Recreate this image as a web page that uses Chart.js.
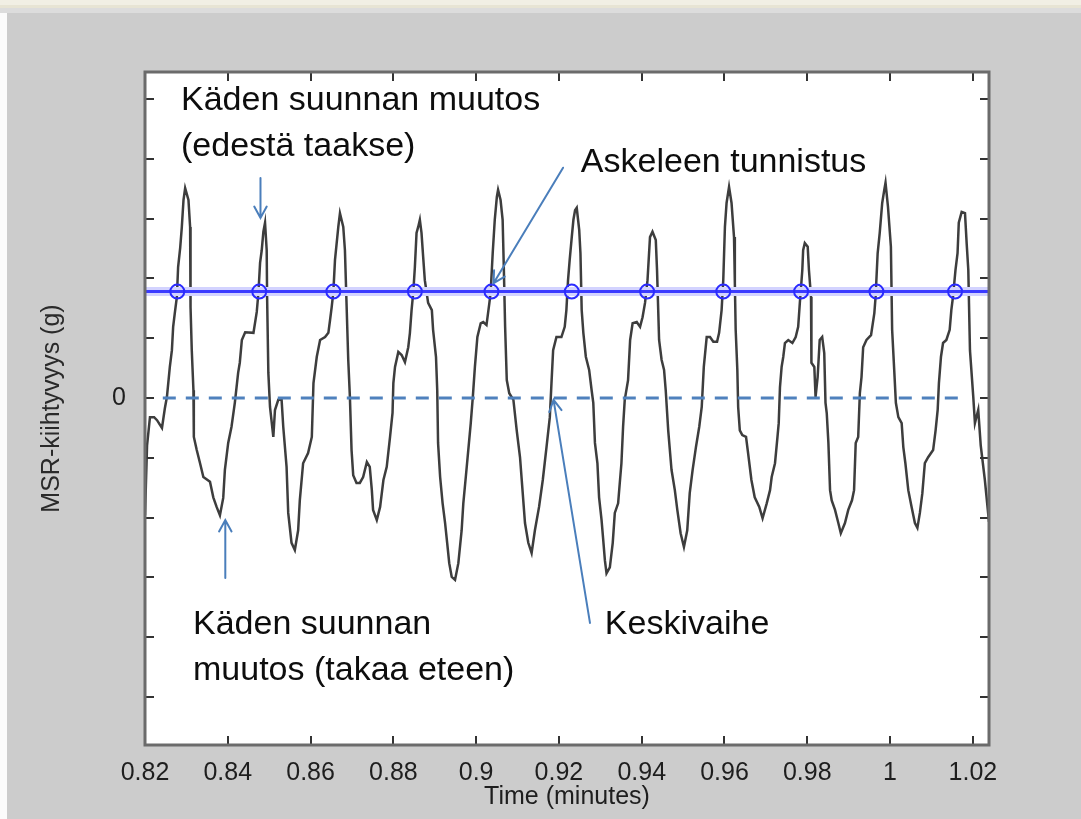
<!DOCTYPE html>
<html>
<head>
<meta charset="utf-8">
<script src="https://cdn.jsdelivr.net/npm/chart.js@4.4.0/dist/chart.umd.min.js"></script>
<style>
  html, body { margin: 0; padding: 0; background: #cccccc; }
  #wrap { width: 1081px; height: 819px; }
</style>
</head>
<body>
<div id="wrap"><canvas id="kuvaaja" width="1081" height="819"></canvas></div>
<script>
// aika (minuutteina) ja MSR-kiihtyvyys, luettu kuvasta
var aika = [
  0.8200, 0.8205, 0.8212, 0.8222, 0.8229, 0.8241, 0.8248, 0.8253, 0.8260, 0.8265,
  0.8268, 0.8272, 0.8277, 0.8280, 0.8285, 0.8289, 0.8293, 0.8297, 0.8305, 0.8309,
  0.8310, 0.8313, 0.8317, 0.8318, 0.8325, 0.8333, 0.8341, 0.8357, 0.8365, 0.8373,
  0.8381, 0.8389, 0.8393, 0.8401, 0.8409, 0.8417, 0.8425, 0.8429, 0.8434, 0.8442,
  0.8462, 0.8470, 0.8474, 0.8478, 0.8482, 0.8486, 0.8490, 0.8494, 0.8495, 0.8498,
  0.8502, 0.8510, 0.8514, 0.8522, 0.8530, 0.8534, 0.8542, 0.8546, 0.8554, 0.8562,
  0.8570, 0.8574, 0.8582, 0.8594, 0.8603, 0.8607, 0.8615, 0.8623, 0.8635, 0.8643,
  0.8647, 0.8651, 0.8655, 0.8659, 0.8667, 0.8671, 0.8679, 0.8683, 0.8691, 0.8695,
  0.8699, 0.8703,
  0.8711, 0.8719, 0.8727, 0.8736, 0.8743, 0.8748, 0.8751, 0.8760, 0.8768, 0.8776,
  0.8784, 0.8792, 0.8798, 0.8800, 0.8804, 0.8812, 0.8820, 0.8828, 0.8836, 0.8840,
  0.8844, 0.8848, 0.8852, 0.8856, 0.8860, 0.8864, 0.8868, 0.8872, 0.8876, 0.8884,
  0.8893, 0.8896, 0.8903, 0.8906, 0.8908, 0.8913, 0.8919, 0.8925, 0.8930, 0.8935,
  0.8941, 0.8949, 0.8957, 0.8965, 0.8969, 0.8975, 0.8981, 0.8987, 0.8992, 0.8997,
  0.9003, 0.9011, 0.9017, 0.9025, 0.9032, 0.9035, 0.9040, 0.9045, 0.9050, 0.9053,
  0.9059, 0.9064, 0.9067, 0.9070, 0.9074, 0.9080, 0.9090, 0.9098, 0.9106, 0.9112,
  0.9118, 0.9126, 0.9134, 0.9142, 0.9152, 0.9161, 0.9170, 0.9178, 0.9182, 0.9186,
  0.9194, 0.9206,
  0.9214, 0.9218, 0.9222, 0.9226, 0.9231, 0.9235, 0.9239, 0.9243, 0.9249, 0.9252,
  0.9255, 0.9259, 0.9265, 0.9273, 0.9279, 0.9283, 0.9287, 0.9293, 0.9297, 0.9303,
  0.9307, 0.9311, 0.9315, 0.9323, 0.9330, 0.9335, 0.9343, 0.9347, 0.9351, 0.9355,
  0.9359, 0.9367, 0.9372, 0.9378, 0.9388, 0.9396, 0.9402, 0.9408, 0.9414, 0.9420,
  0.9426, 0.9434, 0.9437, 0.9442, 0.9448, 0.9454, 0.9458, 0.9464, 0.9472, 0.9480,
  0.9486, 0.9494, 0.9502, 0.9510, 0.9516, 0.9523, 0.9531, 0.9539, 0.9545, 0.9550,
  0.9557, 0.9565, 0.9573, 0.9582, 0.9587, 0.9593, 0.9597, 0.9601, 0.9605, 0.9611,
  0.9617, 0.9623, 0.9625, 0.9627, 0.9631, 0.9633, 0.9637, 0.9643, 0.9652, 0.9657,
  0.9665, 0.9673, 0.9684, 0.9692, 0.9702,
  0.9710, 0.9714, 0.9722, 0.9728, 0.9731, 0.9734, 0.9738, 0.9742, 0.9746, 0.9754,
  0.9764, 0.9772, 0.9778, 0.9782, 0.9785, 0.9788, 0.9790, 0.9794, 0.9801, 0.9804,
  0.9809, 0.9810, 0.9817, 0.9820, 0.9825, 0.9830, 0.9836, 0.9841, 0.9844, 0.9847,
  0.9851, 0.9855, 0.9859, 0.9867, 0.9875, 0.9881, 0.9891, 0.9899, 0.9908, 0.9913,
  0.9917, 0.9923, 0.9927, 0.9931, 0.9935, 0.9943, 0.9954, 0.9962, 0.9965, 0.9970,
  0.9975, 0.9981, 0.9986, 0.9989, 0.9995, 1.0002, 1.0005, 1.0010, 1.0014, 1.0020,
  1.0028, 1.0032, 1.0037, 1.0044, 1.0052, 1.0060, 1.0066, 1.0072, 1.0078, 1.0084,
  1.0092, 1.0104, 1.0110, 1.0115, 1.0118, 1.0123, 1.0128, 1.0136, 1.0144, 1.0148,
  1.0152, 1.0158, 1.0163, 1.0166, 1.0173, 1.0181, 1.0185, 1.0189, 1.0193, 1.0201,
  1.0205, 1.0213, 1.0219, 1.0229, 1.0239
];

var kiihtyvyys = [
  -1.96, -0.79, -0.32, -0.32, -0.37, -0.50, -0.17, 0.02, 0.52, 0.80,
  1.19, 1.42, 1.69, 2.19, 2.51, 2.86, 3.31, 3.51, 3.31, 2.86,
  1.52, 0.80, 0.13, -0.65, -0.87, -1.09, -1.32, -1.40, -1.66, -1.82,
  -1.96, -1.67, -1.20, -0.75, -0.48, -0.08, 0.42, 0.59, 0.97, 1.10,
  1.09, 1.44, 1.76, 2.26, 2.47, 2.78, 2.93, 2.47, 1.69, 0.42,
  -0.15, -0.65, -0.20, -0.03, -0.03, -0.48, -1.15, -1.92, -2.42, -2.54,
  -2.21, -1.71, -1.09, -0.92, -0.65, 0.25, 0.69, 0.97, 1.02, 1.09,
  1.30, 1.52, 1.77, 2.31, 2.86, 3.09, 2.86, 2.47, 0.64, 0.02,
  -0.87, -1.29,
  -1.42, -1.42, -1.32, -1.07, -1.15, -1.54, -1.87, -2.04, -1.82, -1.37,
  -1.15, -0.65, -0.25, 0.25, 0.52, 0.77, 0.72, 0.60, 0.85, 1.09,
  1.47, 1.76, 2.19, 2.76, 2.86, 2.98, 2.76, 2.36, 1.97, 1.59,
  1.47, 1.14, 0.69, 0.13, -0.75, -1.32, -1.76, -2.09, -2.42, -2.76,
  -2.99, -3.04, -2.76, -2.21, -1.76, -1.32, -0.87, -0.42, 0.02, 0.52,
  1.02, 1.25, 1.27, 1.22, 1.59, 1.76, 2.42, 2.98, 3.36, 3.48,
  3.31, 2.98, 2.14, 1.19, 0.30, 0.08, -0.03, -0.54, -0.99, -1.54,
  -2.09, -2.42, -2.59, -2.21, -1.82, -1.37, -0.82, -0.32, 0.25, 0.80,
  1.02, 1.02,
  1.19, 1.47, 1.97, 2.31, 2.69, 2.98, 3.14, 3.18, 2.81, 2.42,
  1.47, 1.09, 0.69, 0.47, 0.13, -0.08, -0.75, -1.09, -1.66, -2.04,
  -2.37, -2.71, -2.93, -2.83, -2.42, -1.92, -1.76, -1.42, -1.09, -0.48,
  -0.03, 0.30, 0.97, 1.25, 1.27, 1.19, 1.35, 1.59, 1.97, 2.69,
  2.78, 2.64, 2.14, 0.97, 0.64, 0.47, 0.13, -0.54, -1.20, -1.54,
  -1.87, -2.26, -2.49, -2.21, -1.59, -1.20, -0.82, -0.48, -0.15, 0.52,
  1.02, 1.02, 0.94, 0.94, 1.09, 1.47, 1.97, 2.86, 3.26, 3.53,
  3.26, 2.69, 1.92, 1.14, 0.47, -0.15, -0.54, -0.62, -0.65, -0.92,
  -1.37, -1.66, -1.82, -2.01, -1.76,
  -1.54, -1.32, -1.09, -0.65, -0.42, 0.18, 0.52, 0.69, 0.92, 0.97,
  0.92, 1.02, 1.19, 1.59, 1.86, 2.14, 2.47, 2.59, 2.53, 2.14,
  1.69, 0.59, 0.52, 0.02, 0.35, 0.97, 1.02, 0.75, -0.08, -0.25,
  -0.75, -1.54, -1.71, -1.87, -2.09, -2.26, -2.09, -1.87, -1.71, -1.54,
  -0.75, -0.65, 0.08, 0.35, 0.85, 0.97, 1.05, 1.42, 1.69, 2.42,
  2.76, 3.26, 3.48, 3.60, 3.19, 2.53, 1.14, 0.47, -0.08, -0.32,
  -0.42, -0.82, -1.09, -1.54, -1.82, -2.09, -2.17, -1.92, -1.59, -1.09,
  -0.99, -0.87, -0.54, -0.20, 0.25, 0.69, 0.92, 0.97, 1.14, 1.47,
  1.69, 2.14, 2.42, 2.93, 3.11, 3.09, 2.59, 2.14, 0.80, 0.02,
  -0.42, -0.20, -0.79, -1.37, -2.07
];

// askeleen tunnistus: kynnyksen ylitykset
var askelAjat = [0.8278, 0.8476, 0.8655, 0.8852, 0.9037, 0.9231, 0.9413, 0.9597, 0.9785, 0.9967, 1.0157];
var kynnys = 1.78;
var kynnysAlue = [0.82, 1.0239];
var nollaAlue = [0.8243, 1.0186];

// akselit
var xAlue = [0.82, 1.0239];
var yAlue = [-5.80, 5.45];
var yNaytettavat = [0];

// tekstit ja nuolet (datakoordinaateissa)
var tekstit = [
  { rivit: ['Käden suunnan muutos', '(edestä taakse)'], x: 0.8287, y: 4.82 },
  { rivit: ['Askeleen tunnistus'], x: 0.9253, y: 3.78 },
  { rivit: ['Keskivaihe'], x: 0.9311, y: -3.95 },
  { rivit: ['Käden suunnan', 'muutos (takaa eteen)'], x: 0.8316, y: -3.95 }
];
var nuolet = [
  { x1: 0.8479, y1: 3.68, x2: 0.8479, y2: 3.01 },
  { x1: 0.9210, y1: 3.85, x2: 0.9042, y2: 1.92 },
  { x1: 0.9275, y1: -3.76, x2: 0.9187, y2: -0.03 },
  { x1: 0.8394, y1: -3.01, x2: 0.8394, y2: -2.04 }
];

var signaali = aika.map(function(t, i) {
  return { x: t, y: kiihtyvyys[i] };
});
var askeleet = askelAjat.map(function(t) {
  return { x: t, y: kynnys };
});

Chart.defaults.font.family = "'Liberation Sans', Arial, sans-serif";

var taustaPlugin = {
  id: 'tausta',
  beforeDraw: function(chart) {
    var ctx = chart.ctx, a = chart.chartArea;
    ctx.save();
    ctx.fillStyle = '#cccccc';
    ctx.fillRect(0, 0, chart.width, chart.height);
    ctx.fillStyle = '#f1efe4';
    ctx.fillRect(0, 0, chart.width, 5);
    ctx.fillStyle = '#e7e4d4';
    ctx.fillRect(0, 5, chart.width, 3);
    ctx.fillStyle = '#dcdcdc';
    ctx.fillRect(0, 8, chart.width, 5);
    ctx.fillStyle = '#fbfbfb';
    ctx.fillRect(0, 13, 7, chart.height - 13);
    ctx.fillStyle = '#ffffff';
    ctx.fillRect(a.left, a.top, a.right - a.left, a.bottom - a.top);
    ctx.restore();
  }
};

var kehysPlugin = {
  id: 'kehys',
  afterDatasetsDraw: function(chart) {
    var ctx = chart.ctx, a = chart.chartArea;
    var xs = chart.scales.x, ys = chart.scales.y;
    var pituus = 9;
    ctx.save();
    ctx.strokeStyle = '#333333';
    ctx.lineWidth = 2;
    ctx.beginPath();
    xs.ticks.forEach(function(t) {
      var px = Math.round(xs.getPixelForValue(t.value));
      ctx.moveTo(px, a.bottom);
      ctx.lineTo(px, a.bottom - pituus);
      ctx.moveTo(px, a.top);
      ctx.lineTo(px, a.top + pituus);
    });
    ys.ticks.forEach(function(t) {
      var py = Math.round(ys.getPixelForValue(t.value));
      ctx.moveTo(a.left, py);
      ctx.lineTo(a.left + pituus, py);
      ctx.moveTo(a.right, py);
      ctx.lineTo(a.right - pituus, py);
    });
    ctx.stroke();
    ctx.strokeStyle = '#6b6b6b';
    ctx.lineWidth = 3;
    ctx.strokeRect(a.left, a.top, a.right - a.left, a.bottom - a.top);
    ctx.restore();
  },
  afterDraw: function(chart) {
    var ctx = chart.ctx;
    var xs = chart.scales.x, ys = chart.scales.y;
    ctx.save();
    // nuolet
    ctx.strokeStyle = '#4a7ebb';
    ctx.lineWidth = 2;
    ctx.lineCap = 'round';
    nuolet.forEach(function(n) {
      var x1 = xs.getPixelForValue(n.x1), y1 = ys.getPixelForValue(n.y1);
      var x2 = xs.getPixelForValue(n.x2), y2 = ys.getPixelForValue(n.y2);
      var kulma = Math.atan2(y2 - y1, x2 - x1);
      ctx.beginPath();
      ctx.moveTo(x1, y1);
      ctx.lineTo(x2, y2);
      ctx.moveTo(x2 - 13 * Math.cos(kulma - 0.5), y2 - 13 * Math.sin(kulma - 0.5));
      ctx.lineTo(x2, y2);
      ctx.lineTo(x2 - 13 * Math.cos(kulma + 0.5), y2 - 13 * Math.sin(kulma + 0.5));
      ctx.stroke();
    });
    // tekstit
    ctx.fillStyle = '#0d0d0d';
    ctx.font = "34px 'Liberation Sans', Arial, sans-serif";
    ctx.textAlign = 'left';
    ctx.textBaseline = 'alphabetic';
    tekstit.forEach(function(m) {
      var px = xs.getPixelForValue(m.x), py = ys.getPixelForValue(m.y);
      m.rivit.forEach(function(r, i) {
        ctx.fillText(r, px, py + i * 46);
      });
    });
    ctx.restore();
  }
};

var ctx = document.getElementById('kuvaaja').getContext('2d');
var kuvaaja = new Chart(ctx, {
  type: 'line',
  data: {
    datasets: [
      {
        label: 'MSR-kiihtyvyys',
        data: signaali,
        borderColor: '#3d3d3d',
        borderWidth: 2.5,
        pointRadius: 0,
        tension: 0,
        order: 5
      },
      {
        label: 'kynnys (halo)',
        data: kynnysAlue.map(function(x) { return { x: x, y: kynnys }; }),
        borderColor: '#d3d3ff',
        borderWidth: 9,
        pointRadius: 0,
        order: 4
      },
      {
        label: 'kynnys',
        data: kynnysAlue.map(function(x) { return { x: x, y: kynnys }; }),
        borderColor: '#3b3bff',
        borderWidth: 3,
        pointRadius: 0,
        order: 3
      },
      {
        label: 'nolla',
        data: nollaAlue.map(function(x) { return { x: x, y: 0 }; }),
        borderColor: '#4f81bd',
        borderWidth: 3,
        borderDash: [13, 10],
        pointRadius: 0,
        order: 2
      },
      {
        label: 'askeleet',
        type: 'scatter',
        data: askeleet,
        showLine: false,
        pointStyle: 'circle',
        pointRadius: 7,
        pointBorderWidth: 2,
        pointBorderColor: '#2b2bff',
        pointBackgroundColor: 'rgba(0,0,0,0)',
        order: 1
      }
    ]
  },
  options: {
    responsive: false,
    animation: false,
    layout: { padding: { top: 72, right: 92, bottom: 0, left: 0 } },
    plugins: {
      legend: { display: false },
      tooltip: { enabled: false }
    },
    scales: {
      x: {
        type: 'linear',
        min: xAlue[0],
        max: xAlue[1],
        grid: { display: false },
        border: { display: false },
        ticks: {
          stepSize: 0.02,
          includeBounds: false,
          autoSkip: false,
          maxRotation: 0,
          padding: 5,
          color: '#1e1e1e',
          font: { size: 25 },
          callback: function(v) { return String(+(+v).toFixed(2)); }
        },
        title: {
          display: true,
          text: 'Time (minutes)',
          color: '#1e1e1e',
          font: { size: 25 },
          padding: { top: 0, bottom: 7 }
        },
        afterFit: function(s) { s.height = 74; }
      },
      y: {
        type: 'linear',
        min: yAlue[0],
        max: yAlue[1],
        grid: { display: false },
        border: { display: false },
        ticks: {
          stepSize: 1,
          includeBounds: false,
          padding: 11,
          color: '#1e1e1e',
          font: { size: 25 },
          callback: function(v) { return yNaytettavat.indexOf(v) >= 0 ? String(v) : ''; }
        },
        title: {
          display: true,
          text: 'MSR-kiihtyvyys (g)',
          color: '#2a2a2a',
          font: { size: 25 },
          padding: { top: 37, bottom: 0 }
        },
        afterFit: function(s) { s.width = 145; }
      }
    }
  },
  plugins: [taustaPlugin, kehysPlugin]
});
</script>
</body>
</html>
